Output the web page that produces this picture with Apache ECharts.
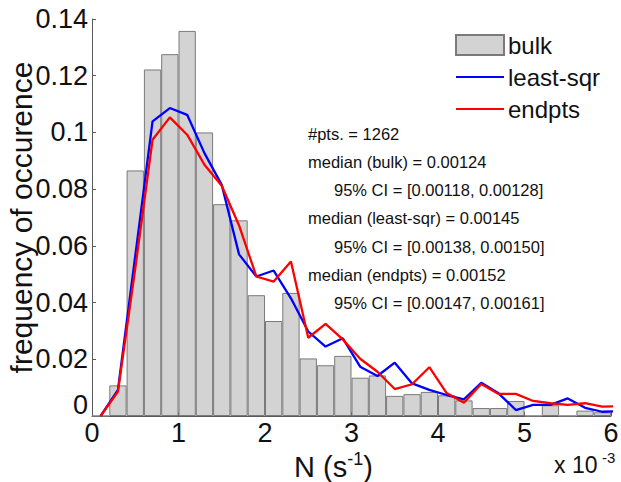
<!DOCTYPE html>
<html>
<head>
<meta charset="utf-8">
<script src="https://cdn.jsdelivr.net/npm/echarts@6/dist/echarts.min.js"></script>
<style>
  html, body { margin: 0; padding: 0; background: #fff; }
  #chart { width: 621px; height: 482px; }
</style>
</head>
<body>
<div id="chart"></div>
<script>
// Histogram bin centres (units of 1e-3 s^-1)
const binCenters = [0.1, 0.3, 0.5, 0.7, 0.9, 1.1, 1.3, 1.5, 1.7, 1.9,
                    2.1, 2.3, 2.5, 2.7, 2.9, 3.1, 3.3, 3.5, 3.7, 3.9,
                    4.1, 4.3, 4.5, 4.7, 4.9, 5.1, 5.3, 5.5, 5.7, 5.9];
// Curve sample points (one extra point beyond the axis end, clipped)
const curveX = [0.1, 0.3, 0.5, 0.7, 0.9, 1.1, 1.3, 1.5, 1.7, 1.9,
                2.1, 2.3, 2.5, 2.7, 2.9, 3.1, 3.3, 3.5, 3.7, 3.9,
                4.1, 4.3, 4.5, 4.7, 4.9, 5.1, 5.3, 5.5, 5.7, 5.9, 6.1];

const bulkFreq = [0, 0.0108, 0.0866, 0.1222, 0.1276, 0.1358, 0.1000, 0.0747, 0.0690, 0.0426,
                  0.0335, 0.0434, 0.0203, 0.0179, 0.0212, 0.0135, 0.0143, 0.0071, 0.0077, 0.0085,
                  0.0073, 0.0055, 0.0028, 0.0028, 0.0053, 0, 0.0038, 0, 0.0019, 0.0013];

const leastSqrFreq = [0, 0.0092, 0.0565, 0.1039, 0.1086, 0.1062, 0.0927, 0.0815, 0.0570, 0.0492,
                      0.0513, 0.0415, 0.0298, 0.0245, 0.0274, 0.0174, 0.0141, 0.0188, 0.0115, 0.0092,
                      0.0074, 0.0059, 0.0117, 0.0080, 0.0021, 0.0039, 0.0039, 0.0062, 0.0029, 0.0015, 0.0017];

const endptsFreq = [0, 0.0086, 0.0520, 0.0974, 0.1053, 0.0992, 0.0886, 0.0812, 0.0672, 0.0492,
                    0.0474, 0.0545, 0.0276, 0.0325, 0.0270, 0.0202, 0.0156, 0.0095, 0.0112, 0.0172,
                    0.0081, 0.0047, 0.0113, 0.0078, 0.0078, 0.0053, 0.0045, 0.0039, 0.0045, 0.0033, 0.0035];

const xTicks = [0, 1, 2, 3, 4, 5, 6];
const yTicks = [0, 0.02, 0.04, 0.06, 0.08, 0.1, 0.12, 0.14];
const binWidth = 0.2;

const statsLines = [
  '#pts. = 1262',
  'median (bulk) = 0.00124',
  '     95% CI = [0.00118, 0.00128]',
  'median (least-sqr) = 0.00145',
  '     95% CI = [0.00138, 0.00150]',
  'median (endpts) = 0.00152',
  '     95% CI = [0.00147, 0.00161]'
];

const FONT = "'Liberation Sans', Arial, Helvetica, sans-serif";
const W = 621, H = 482;
const grid = { left: 92, right: 10, top: 19, bottom: 66 };
const xMin = xTicks[0], xMax = xTicks[xTicks.length - 1];
const plotW = W - grid.left - grid.right;
const barPx = plotW / (xMax - xMin) * binWidth;

const chart = echarts.init(document.getElementById('chart'), null, { renderer: 'svg', width: W, height: H });

const axisColor = '#5a5a5a';

const statsGraphics = statsLines.map((t, i) => {
  const indent = t.startsWith('     ');
  return {
    type: 'text',
    left: indent ? 334 : 308,
    top: 125 + i * 28.3,
    style: {
      text: t.trim(),
      font: '16.5px ' + FONT,
      fill: '#111'
    }
  };
});

chart.setOption({
  animation: false,
  backgroundColor: '#fff',
  textStyle: { fontFamily: FONT },
  grid: {
    left: grid.left, right: grid.right, top: grid.top, bottom: grid.bottom,
    containLabel: false,
    outerBoundsMode: 'none'
  },
  legend: {
    orient: 'vertical',
    left: 455,
    top: 33,
    padding: 0,
    itemWidth: 48,
    itemHeight: 20,
    itemGap: 8,
    textStyle: { fontSize: 24, lineHeight: 20, color: '#111', fontFamily: FONT, padding: [0, 0, 0, -1] },
    data: [
      { name: 'bulk', icon: 'rect' },
      { name: 'least-sqr', itemStyle: { opacity: 0 } },
      { name: 'endpts', itemStyle: { opacity: 0 } }
    ]
  },
  xAxis: {
    type: 'value',
    min: xMin,
    max: xMax,
    interval: 1,
    axisLine: { show: true, onZero: false, lineStyle: { color: axisColor, width: 1 } },
    axisTick: { show: true, inside: true, length: 4, lineStyle: { color: axisColor } },
    axisLabel: { fontSize: 27, lineHeight: 24, color: '#111', margin: 5, fontFamily: FONT },
    splitLine: { show: false }
  },
  yAxis: {
    type: 'value',
    min: yTicks[0],
    max: yTicks[yTicks.length - 1],
    interval: 0.02,
    name: 'frequency of occurence',
    nameLocation: 'middle',
    nameGap: 56,
    nameMoveOverlap: false,
    nameTextStyle: { fontSize: 30, color: '#111', fontFamily: FONT },
    axisLine: { show: true, lineStyle: { color: axisColor, width: 1 } },
    axisTick: { show: true, inside: true, length: 4, lineStyle: { color: axisColor } },
    axisLabel: {
      fontSize: 27, lineHeight: 22, color: '#111', margin: 4, fontFamily: FONT,
      verticalAlignMinLabel: 'bottom',
      formatter: v => String(+v.toFixed(2))
    },
    splitLine: { show: false }
  },
  graphic: [
    {
      type: 'text',
      left: 294,
      top: 450,
      style: {
        text: '{n|N (s}{s|-1}{n|)}',
        fill: '#111',
        rich: {
          n: { fontSize: 29, fontFamily: FONT, fill: '#111', lineHeight: 30 },
          s: { fontSize: 18, fontFamily: FONT, fill: '#111', lineHeight: 30, padding: [0, 0, 16, 0] }
        }
      }
    },
    {
      type: 'text',
      left: 554,
      top: 453,
      style: { text: 'x 10', font: '23px ' + FONT, fill: '#111' }
    },
    {
      type: 'text',
      left: 602,
      top: 450,
      style: { text: '-3', font: '15px ' + FONT, fill: '#111' }
    }
  ].concat(statsGraphics),
  series: [
    {
      name: 'bulk',
      type: 'bar',
      barWidth: barPx,
      barGap: '-100%',
      data: binCenters.map((x, i) => [x, bulkFreq[i]]),
      itemStyle: { color: '#d3d3d3', borderColor: '#7a7a7a', borderWidth: 1 },
      z: 1
    },
    {
      name: 'least-sqr',
      type: 'line',
      data: curveX.map((x, i) => [x, leastSqrFreq[i]]),
      symbol: 'none',
      clip: true,
      lineStyle: { color: '#0000ff', width: 2.3 },
      itemStyle: { color: '#0000ff' },
      z: 3
    },
    {
      name: 'endpts',
      type: 'line',
      data: curveX.map((x, i) => [x, endptsFreq[i]]),
      symbol: 'none',
      clip: true,
      lineStyle: { color: '#ff0000', width: 2.3 },
      itemStyle: { color: '#ff0000' },
      z: 4
    }
  ]
});
</script>
</body>
</html>
